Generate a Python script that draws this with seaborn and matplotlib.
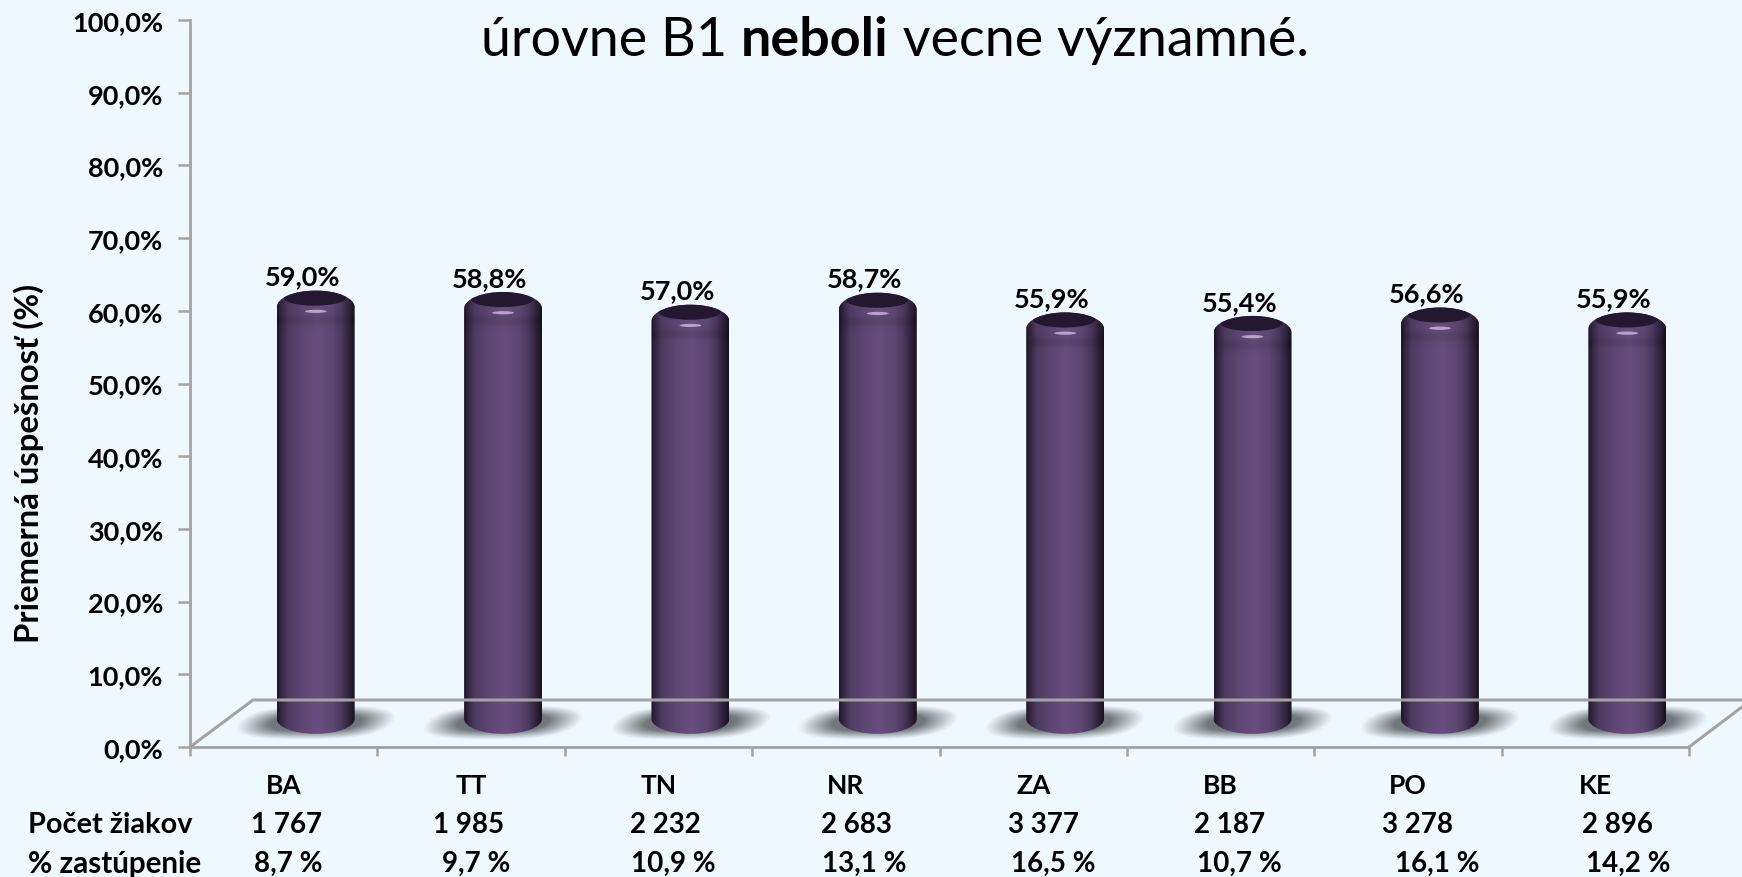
import matplotlib
matplotlib.use("Agg")
import matplotlib.pyplot as plt
import seaborn as sns
import numpy as np
import pandas as pd
from matplotlib.colors import LinearSegmentedColormap
from matplotlib.lines import Line2D
from matplotlib.patches import Ellipse, PathPatch
from matplotlib.path import Path
from matplotlib.ticker import FixedLocator

# data
regions = ['BA', 'TT', 'TN', 'NR', 'ZA', 'BB', 'PO', 'KE']
success = [59.0, 58.8, 57.0, 58.7, 55.9, 55.4, 56.6, 55.9]
success_labels = ['59,0%', '58,8%', '57,0%', '58,7%', '55,9%', '55,4%', '56,6%', '55,9%']
pupils = ['1 767', '1 985', '2 232', '2 683', '3 377', '2 187', '3 278', '2 896']
shares = ['8,7 %', '9,7 %', '10,9 %', '13,1 %', '16,5 %', '10,7 %', '16,1 %', '14,2 %']
y_ticks = [0, 10, 20, 30, 40, 50, 60, 70, 80, 90, 100]
y_tick_labels = ['0,0%', '10,0%', '20,0%', '30,0%', '40,0%', '50,0%', '60,0%', '70,0%', '80,0%', '90,0%', '100,0%']

# the table rows under the chart are not quite aligned in the original
pupils_x = [287, 469, 665, 856, 1043, 1230, 1417, 1617]
shares_x = [288, 476, 673, 864, 1053, 1239, 1437, 1628]

W, H = 1742, 878
BG = '#f0f8ff'
GREY = '#a3a3a3'


def ax_box(left, top, right, bottom):
    return [left / W, 1 - bottom / H, (right - left) / W, (bottom - top) / H]


sns.set_theme(style="white")
plt.rcParams['font.family'] = ['Lato', 'DejaVu Sans']

fig = plt.figure(figsize=(W / 100, H / 100), dpi=100, facecolor=BG)

# flat wall with the real axis
ax = fig.add_axes(ax_box(190, 21, 1689, 748), facecolor='none')
ax.set_xlim(-0.5, 7.5)
ax.set_ylim(0, 100)
sns.despine(ax=ax)
for side in ['left', 'bottom']:
    ax.spines[side].set_color(GREY)
    ax.spines[side].set_linewidth(2.0)
ax.set_yticks(y_ticks)
ax.set_yticklabels(y_tick_labels, fontsize=19.5, fontweight='bold', color='black')
ax.tick_params(axis='y', left=True, length=8.5, width=1.8, color=GREY, pad=11)
ax.set_xticks(range(len(regions)))
ax.set_xticklabels(regions, fontsize=19, fontweight='bold', color='black')
ax.xaxis.set_minor_locator(FixedLocator(np.arange(-0.5, 8, 1)))
ax.tick_params(axis='x', which='major', bottom=False, length=0, pad=19)
ax.tick_params(axis='x', which='minor', bottom=True, length=6.5, width=1.8, color=GREY)
ax.set_ylabel('')
fig.text(29 / W, 1 - 463 / H, 'Priemerná úspešnosť (%)', rotation=90, ha='center', va='center',
         fontsize=23.7, fontweight='bold', color='black')

# floor of the 3D box
for xs, ys in [([190, 253, 1742], [748, 701, 701]), ([1689, 1742], [748, 708])]:
    fig.add_artist(Line2D([x / W for x in xs], [1 - y / H for y in ys], color=GREY, lw=2.2,
                          transform=fig.transFigure))

# bars sit on the floor, so they get their own shifted axes
bx = fig.add_axes(ax_box(222, 16, 1721, 748), facecolor='none')
df = pd.DataFrame({'region': regions, 'success': success})
sns.barplot(data=df, x='region', y='success', color='#5b4470', width=0.416, ax=bx)
bx.set_xlim(-0.5, 7.5)
bx.set_ylim(-4, 100)
bx.axis('off')

body_cmap = LinearSegmentedColormap.from_list('cyl', [
    (0.00, '#1f1629'), (0.05, '#33263f'), (0.14, '#4f3b62'), (0.30, '#5c4571'),
    (0.52, '#674e7e'), (0.72, '#5d4672'), (0.84, '#49365b'), (0.93, '#2f2239'), (1.00, '#18111f')])
gradient = np.linspace(0, 1, 200).reshape(1, -1)
ell_h = 3.7   # cap height in axis units

for bar, label in zip(bx.containers[0], success_labels):
    x0, w, h = bar.get_x(), bar.get_width(), bar.get_height()
    xc = x0 + w / 2
    x1 = x0 + w
    bar.set_visible(False)

    # soft shadow on the floor, slanted like the floor
    gy, gx = np.mgrid[-1:1:60j, -1:1:240j]
    r = (np.abs(gx + 0.18 * gy) ** 3 * 1.05 + np.abs(gy) ** 2.4) ** (1 / 2.4)
    alpha = np.clip((1.0 - r) / 0.5, 0, 1) ** 1.1
    rgba = np.zeros(alpha.shape + (4,))
    rgba[..., :3] = matplotlib.colors.to_rgb('#6f787b')
    rgba[..., 3] = alpha
    bx.imshow(rgba, extent=(xc - 0.42, xc + 0.42, -3.0, 1.9), aspect='auto', origin='upper', zorder=1)

    # body outline: straight sides, rounded bottom and rounded cap
    k = 0.5523
    a, b = w / 2, ell_h / 2
    c = b * 1.15
    verts = [(x0, 0), (x0, h - 0.5),
             (x0, h - 0.5 + (b + 0.5) * k), (xc - a * k, h + b), (xc, h + b),
             (xc + a * k, h + b), (x1, h - 0.5 + (b + 0.5) * k), (x1, h - 0.5),
             (x1, 0),
             (x1, -c * k), (xc + a * k, -c), (xc, -c),
             (xc - a * k, -c), (x0, -c * k), (x0, 0), (x0, 0)]
    codes = [Path.MOVETO, Path.LINETO,
             Path.CURVE4, Path.CURVE4, Path.CURVE4,
             Path.CURVE4, Path.CURVE4, Path.CURVE4,
             Path.LINETO,
             Path.CURVE4, Path.CURVE4, Path.CURVE4,
             Path.CURVE4, Path.CURVE4, Path.CURVE4, Path.CLOSEPOLY]
    outline = PathPatch(Path(verts, codes), transform=bx.transData, fc='none', ec='none')
    bx.add_patch(outline)
    im = bx.imshow(gradient, extent=(x0, x1, -c - 0.5, h + b + 0.5), aspect='auto', cmap=body_cmap,
                   vmin=0, vmax=1, zorder=2)
    im.set_clip_path(outline)

    # faint darker band where the bevel meets the body
    band_y = np.linspace(-1, 1, 40).reshape(-1, 1)
    band = np.zeros((40, 1, 4))
    band[..., 3] = 0.1 * np.exp(-(band_y * 2.2) ** 2)
    bim = bx.imshow(band, extent=(x0, x1, h - 4.0, h - 0.6), aspect='auto', origin='lower', zorder=2.5)
    bim.set_clip_path(outline)

    # dark mouth on top and the small glint under it
    mouth = Ellipse((xc - 0.005, h + b - 1.05), w * 0.8, 2.2, fc='#231830', ec='none', zorder=3)
    bx.add_patch(mouth)
    mouth.set_clip_path(outline)
    bx.add_patch(Ellipse((xc, h - 1.1), w * 0.28, 0.45, fc='#c9b3d6', ec='none', alpha=0.85, zorder=3))

    bx.annotate(label, (xc, h + 3.85), xytext=(-9.5, 0), textcoords='offset points', ha='center', va='center',
                fontsize=19.5, fontweight='bold', color='black', zorder=4)

# table under the chart
fig.text(28 / W, 1 - 825 / H, 'Počet žiakov', ha='left', va='center', fontsize=20.8, fontweight='bold', color='black')
fig.text(28 / W, 1 - 864 / H, '% zastúpenie', ha='left', va='center', fontsize=21.3, fontweight='bold', color='black')
for xp, t in zip(pupils_x, pupils):
    fig.text(xp / W, 1 - 825 / H, t, ha='center', va='center', fontsize=20, fontweight='bold', color='black')
for xp, t in zip(shares_x, shares):
    fig.text(xp / W, 1 - 864 / H, t, ha='center', va='center', fontsize=20, fontweight='bold', color='black')

# slide text overlapping the chart
t1 = fig.text(481 / W, 1 - 56 / H, 'úrovne B1 ', fontsize=38.8, color='black', va='baseline')
t2 = ax.annotate('neboli', xy=(1, 0), xycoords=t1, va='bottom', fontsize=38.8, fontweight='bold', color='black',
                 annotation_clip=False)
t3 = ax.annotate(' vecne významné.', xy=(1, 0), xycoords=t2, va='bottom', fontsize=38.8, color='black',
                 annotation_clip=False)

fig.savefig('out.png', dpi=100, facecolor=BG)
plt.close(fig)
